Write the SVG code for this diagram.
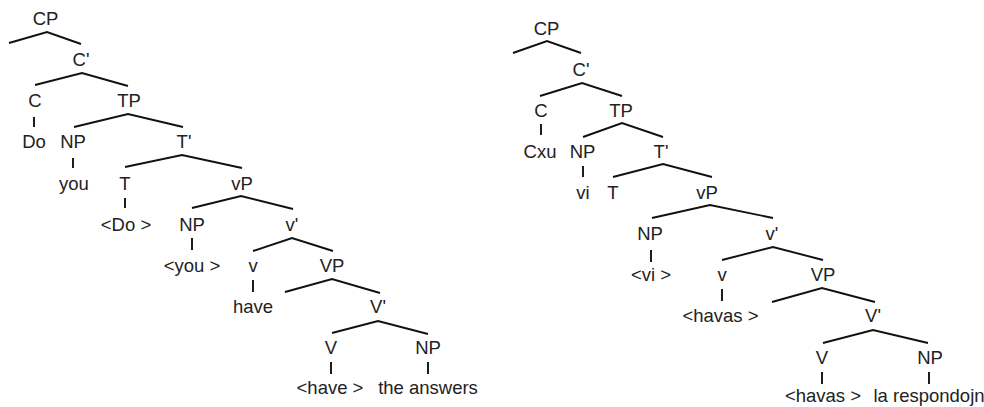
<svg xmlns="http://www.w3.org/2000/svg" width="984" height="407" viewBox="0 0 984 407">
<style>
text { font-family: "Liberation Sans", Arial, sans-serif; font-size: 18.5px; fill: #222; text-anchor: middle; }
.br { fill: none; stroke: #111; stroke-width: 1.9; stroke-linejoin: miter; }
</style>
<rect width="984" height="407" fill="#fff"/>
<g id="connectors">
  <path class="br" d="M9,43 L47,32 L81,44"/>
  <path class="br" d="M35,85 L82,73 L128,86"/>
  <path class="br" d="M34,117 V127"/>
  <path class="br" d="M74,127 L128,114 L183,127"/>
  <path class="br" d="M73,158 V168"/>
  <path class="br" d="M125,167 L182,155 L242,168"/>
  <path class="br" d="M125,198 V208"/>
  <path class="br" d="M192,208 L241,196 L293,209"/>
  <path class="br" d="M192,238 V250"/>
  <path class="br" d="M253,251 L292,238 L333,251"/>
  <path class="br" d="M253,280 V292"/>
  <path class="br" d="M285,292 L332,279 L380,293"/>
  <path class="br" d="M332,333 L378,321 L428,334"/>
  <path class="br" d="M331,362 V374"/>
  <path class="br" d="M428,362 V374"/>

  <path class="br" d="M513,53 L547,41 L581,53"/>
  <path class="br" d="M540,96 L582,83 L622,96"/>
  <path class="br" d="M541,124 V135"/>
  <path class="br" d="M583,137 L622,123 L663,137"/>
  <path class="br" d="M583,166 V177"/>
  <path class="br" d="M613,177 L663,164 L712,177"/>
  <path class="br" d="M652,218 L710,205 L773,218"/>
  <path class="br" d="M651,250 V262"/>
  <path class="br" d="M722,260 L773,247 L823,260"/>
  <path class="br" d="M722,289 V301"/>
  <path class="br" d="M772,302 L822,288 L875,302"/>
  <path class="br" d="M823,343 L873,330 L928,343"/>
  <path class="br" d="M822,372 V384"/>
  <path class="br" d="M929,372 V384"/>
</g>
<g id="left-tree">
  <g id="L-CP"><text x="45.5" y="25">CP</text></g>
  <g id="L-Cbar"><text x="81" y="66">C'</text></g>
  <g id="L-C"><text x="35" y="107">C</text></g>
  <g id="L-TP"><text x="129" y="107">TP</text></g>
  <g id="L-Do"><text x="34" y="148">Do</text></g>
  <g id="L-NP1"><text x="73" y="148">NP</text></g>
  <g id="L-Tbar"><text x="184" y="148">T'</text></g>
  <g id="L-you"><text x="74" y="189.5">you</text></g>
  <g id="L-T"><text x="125" y="189.5">T</text></g>
  <g id="L-vP"><text x="242" y="189.5">vP</text></g>
  <g id="L-Do-trace"><text x="126" y="230.5">&lt;Do &gt;</text></g>
  <g id="L-NP2"><text x="192" y="230.5">NP</text></g>
  <g id="L-vbar"><text x="292" y="230.5">v'</text></g>
  <g id="L-you-trace"><text x="192" y="271.5">&lt;you &gt;</text></g>
  <g id="L-v"><text x="253" y="271.5">v</text></g>
  <g id="L-VP"><text x="332" y="271.5">VP</text></g>
  <g id="L-have"><text x="253" y="312.5">have</text></g>
  <g id="L-Vbar"><text x="378" y="312.5">V'</text></g>
  <g id="L-V"><text x="331" y="354">V</text></g>
  <g id="L-NP3"><text x="428" y="354">NP</text></g>
  <g id="L-have-trace"><text x="330" y="394">&lt;have &gt;</text></g>
  <g id="L-answers"><text x="428" y="394">the answers</text></g>
</g>
<g id="right-tree">
  <g id="R-CP"><text x="546.5" y="35">CP</text></g>
  <g id="R-Cbar"><text x="581" y="75.5">C'</text></g>
  <g id="R-C"><text x="541" y="117">C</text></g>
  <g id="R-TP"><text x="621" y="117">TP</text></g>
  <g id="R-Cxu"><text x="540" y="158">Cxu</text></g>
  <g id="R-NP1"><text x="582.5" y="158">NP</text></g>
  <g id="R-Tbar"><text x="661" y="158">T'</text></g>
  <g id="R-vi"><text x="583" y="198.5">vi</text></g>
  <g id="R-T"><text x="613" y="198.5">T</text></g>
  <g id="R-vP"><text x="707" y="198.5">vP</text></g>
  <g id="R-NP2"><text x="650" y="240">NP</text></g>
  <g id="R-vbar"><text x="772" y="240">v'</text></g>
  <g id="R-vi-trace"><text x="651" y="280.5">&lt;vi &gt;</text></g>
  <g id="R-v"><text x="722" y="280.5">v</text></g>
  <g id="R-VP"><text x="823" y="280.5">VP</text></g>
  <g id="R-havas"><text x="720.5" y="322">&lt;havas &gt;</text></g>
  <g id="R-Vbar"><text x="873" y="322">V'</text></g>
  <g id="R-V"><text x="822" y="364">V</text></g>
  <g id="R-NP3"><text x="930" y="364">NP</text></g>
  <g id="R-havas-trace"><text x="823" y="402">&lt;havas &gt;</text></g>
  <g id="R-respondojn"><text x="929" y="402">la respondojn</text></g>
</g>
</svg>
